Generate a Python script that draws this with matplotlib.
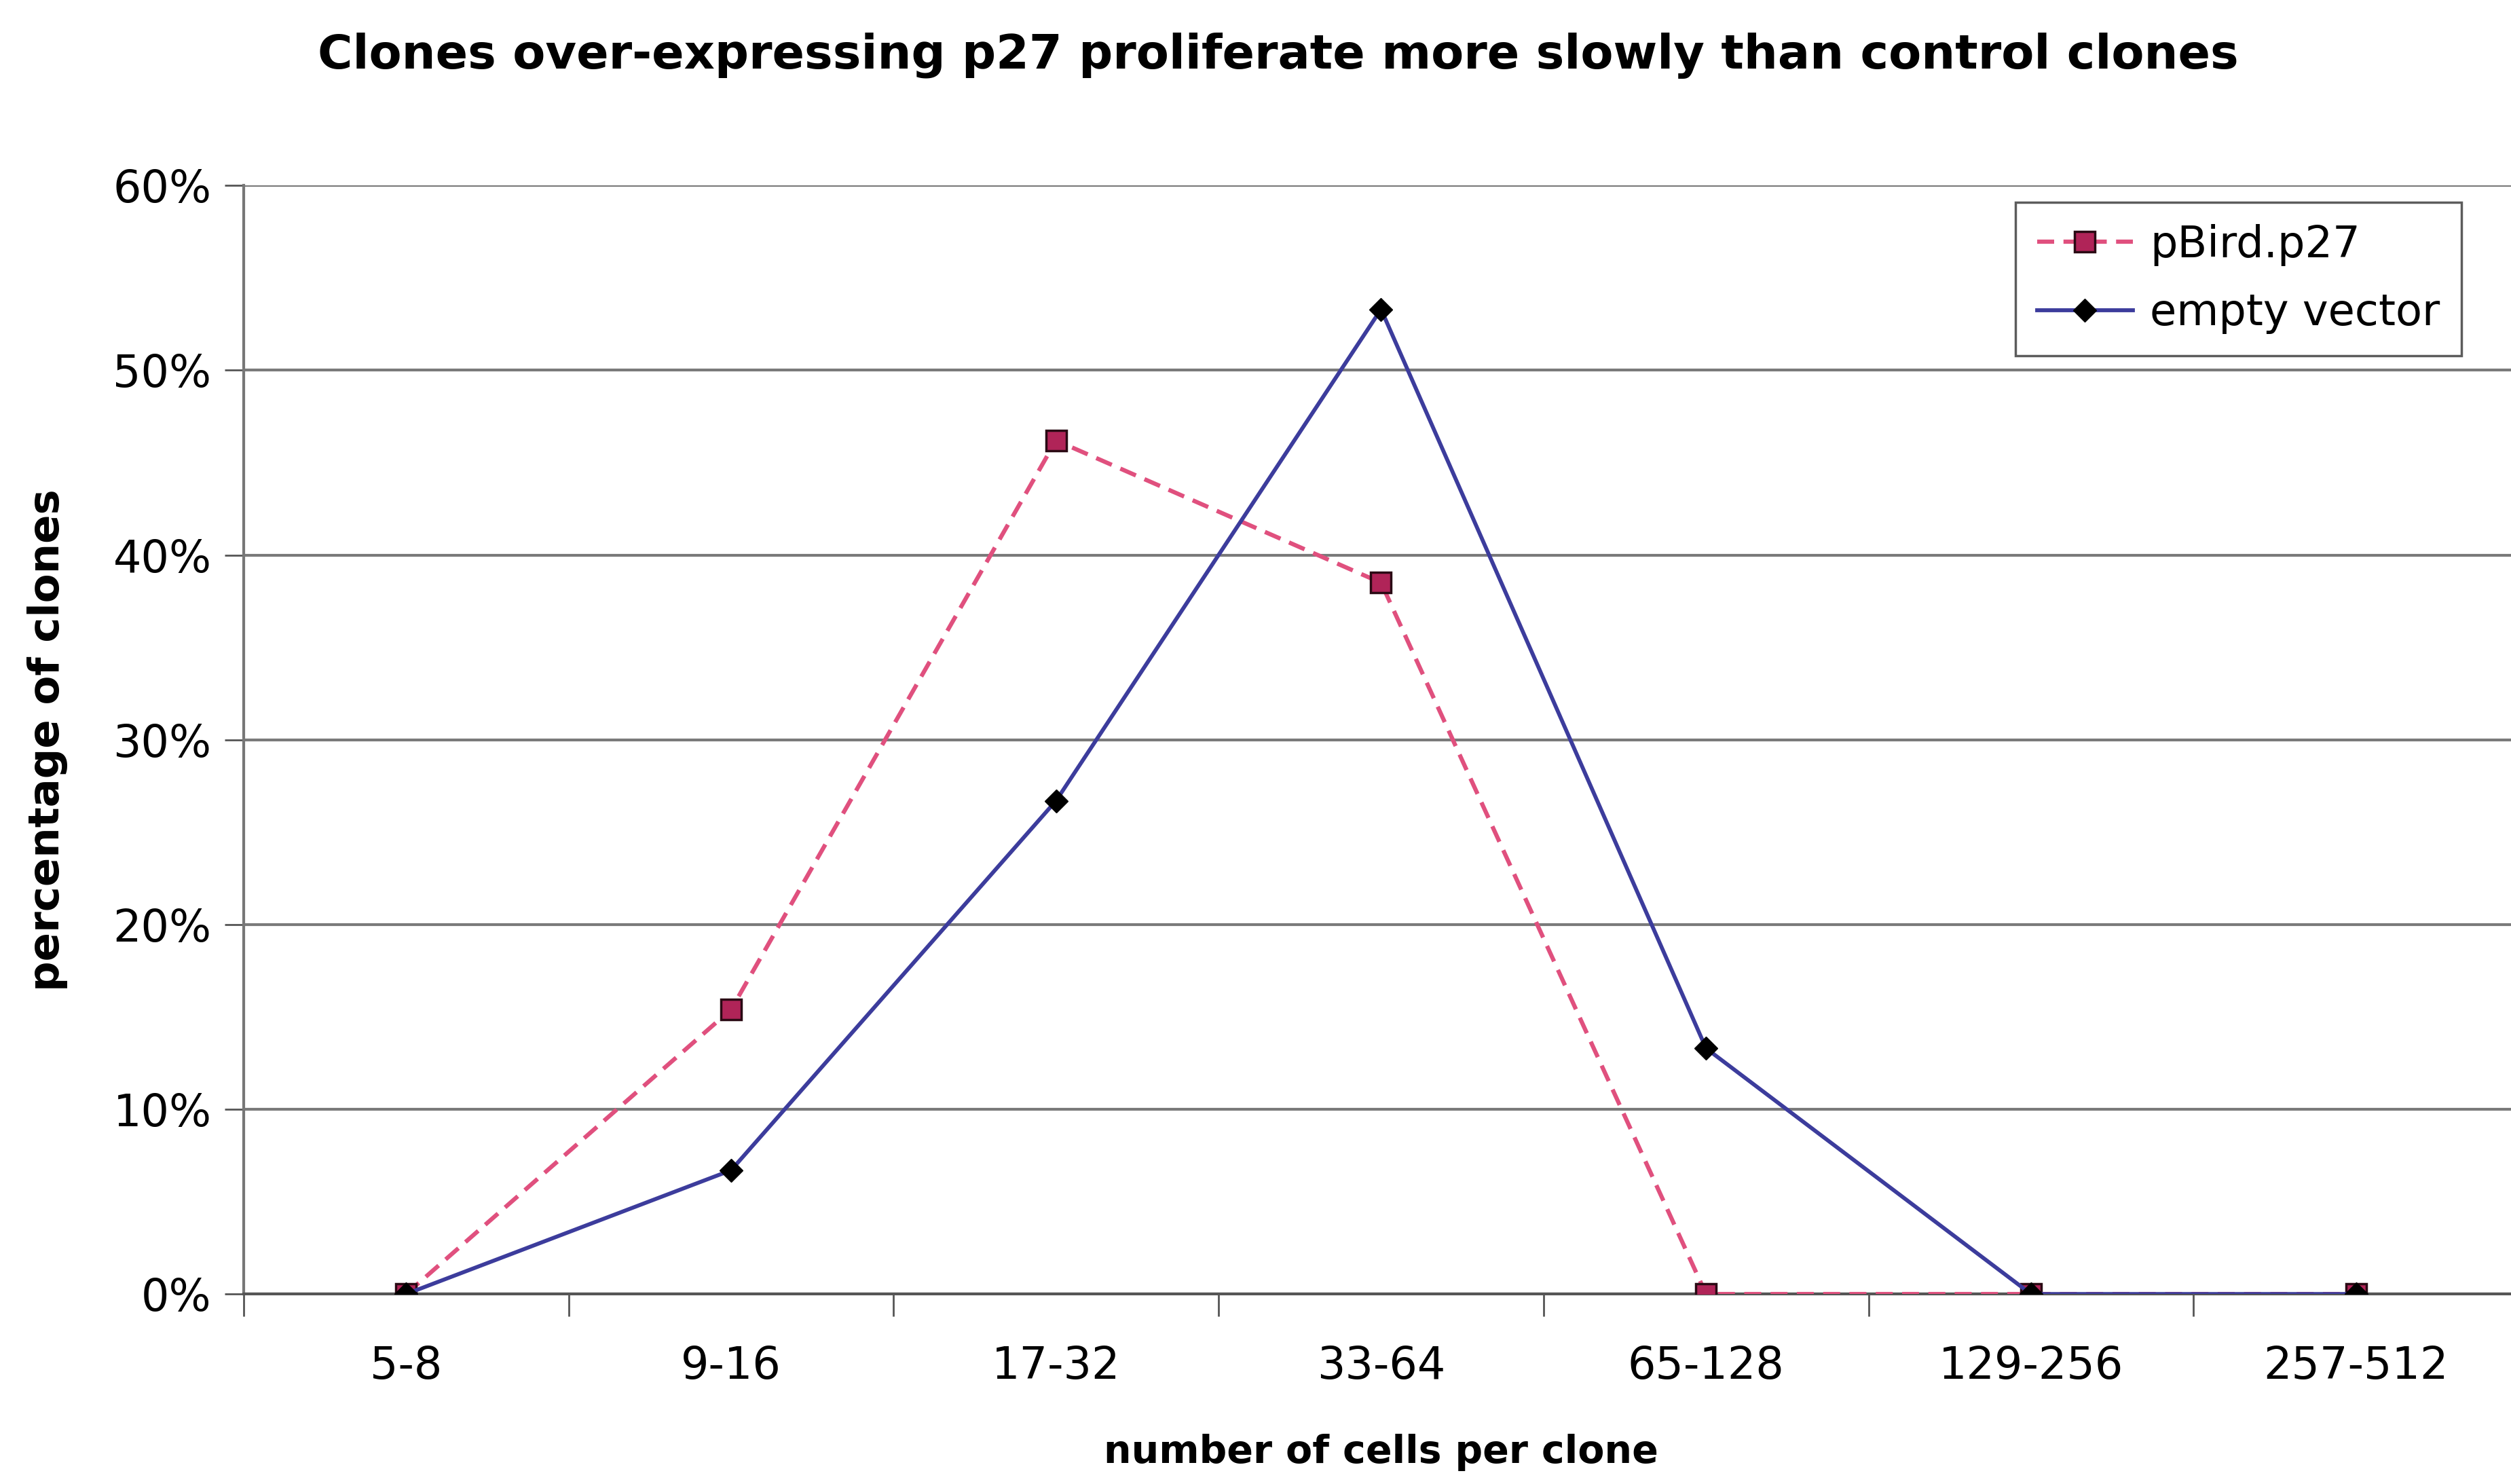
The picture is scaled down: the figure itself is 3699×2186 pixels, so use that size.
import matplotlib.pyplot as plt
import numpy as np
from matplotlib.ticker import PercentFormatter

# data (percentage of clones)
categories = ["5-8", "9-16", "17-32", "33-64", "65-128", "129-256", "257-512"]
pbird_p27 = [0.0, 15.4, 46.2, 38.5, 0.0, 0.0, 0.0]
empty_vector = [0.0, 6.7, 26.7, 53.3, 13.3, 0.0, 0.0]

x = np.arange(len(categories))

fig = plt.figure(figsize=(36.99, 21.86), dpi=100)
ax = fig.add_axes([0.097, 0.128, 0.906, 0.747])

# gridlines
ax.set_axisbelow(True)
ax.yaxis.grid(True, color="#7a7a7a", linewidth=3)

ax.plot(x, pbird_p27, color="#e0507e", linestyle=(0, (4, 2.2)), linewidth=4.5,
        marker="s", markersize=21, markerfacecolor="#b02458",
        markeredgecolor="#2a0a14", markeredgewidth=2.5, label="pBird.p27", zorder=3)
ax.plot(x, empty_vector, color="#3c3c9c", linewidth=4.2,
        marker="D", markersize=17, markerfacecolor="black",
        markeredgecolor="black", label="empty vector", zorder=4)

ax.set_xlim(-0.5, len(categories) - 0.5)
ax.set_ylim(0, 60)
ax.set_yticks(np.arange(0, 61, 10))
ax.yaxis.set_major_formatter(PercentFormatter(decimals=0))

ax.set_xticks(x)
ax.set_xticklabels(categories)
ax.set_xticks(np.arange(-0.5, len(categories), 1.0), minor=True)
ax.tick_params(axis="x", which="major", length=0, pad=54, labelsize=47)
ax.tick_params(axis="x", which="minor", length=24, width=2, color="#555555")
ax.tick_params(axis="y", length=20, width=2, color="#555555", pad=14, labelsize=47)

for s in ["top", "right"]:
    ax.spines[s].set_visible(False)
ax.spines["left"].set_color("#777777")
ax.spines["left"].set_linewidth(3)
ax.spines["bottom"].set_color("#555555")
ax.spines["bottom"].set_linewidth(3)

ax.set_xlabel("number of cells per clone", fontsize=41, fontweight="bold", labelpad=48)
ax.set_ylabel("percentage of clones", fontsize=45, fontweight="bold", labelpad=48)
fig.suptitle("Clones over-expressing p27 proliferate more slowly than control clones",
             fontsize=50.5, fontweight="bold", x=0.509, y=0.978)

leg = ax.legend(loc="upper right", bbox_to_anchor=(0.975, 0.985), fontsize=46,
                frameon=True, fancybox=False, borderpad=0.5, handlelength=2.2,
                handletextpad=0.4, labelspacing=0.6, borderaxespad=0)
leg.get_frame().set_edgecolor("#333333")
leg.get_frame().set_linewidth(2.5)

fig.savefig("out.png", dpi=100)
